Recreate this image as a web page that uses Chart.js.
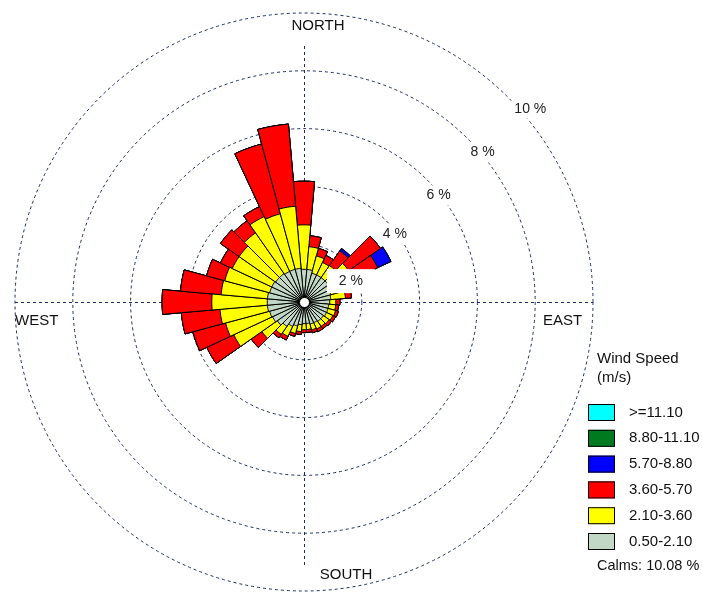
<!DOCTYPE html>
<html>
<head>
<meta charset="utf-8">
<script src="https://cdn.jsdelivr.net/npm/chart.js@4"></script>
<style>
  html, body { margin: 0; padding: 0; background: #ffffff; }
  #wrap { position: relative; width: 702px; height: 592px; }
</style>
</head>
<body>
<div id="wrap"><canvas id="rose" width="702" height="592"></canvas></div>
<script>
// Wind direction sectors (degrees clockwise from north), 10° each
const directions = ['0','10','20','30','40','50','60','70','80','90','100','110',
                    '120','130','140','150','160','170','180','190','200','210','220','230',
                    '240','250','260','270','280','290','300','310','320','330','340','350'];

// Frequency (%) of each wind speed class per direction sector
const freq_050_210 = [1.13,1.13,1.03,1.03,1.03,1.03,0.96,0.96,0.93,0.89,0.86,0.86,
                      0.86,0.82,0.82,0.79,0.79,0.75,0.75,0.79,0.86,0.93,1.03,1.13,
                      1.20,1.23,1.27,1.27,1.27,1.23,1.23,1.20,1.20,1.17,1.17,1.17];
const freq_210_360 = [1.54,0.79,0.62,0.48,0.51,0.86,0.75,0.48,0.51,0.21,0.24,0.27,
                      0.24,0.24,0.21,0.24,0.21,0.21,0.21,0.24,0.27,0.38,0.34,0.65,
                      1.48,1.58,1.65,1.92,1.61,1.61,1.51,1.54,1.72,2.09,1.99,2.16];
const freq_360_570 = [1.51,0.38,0.27,0.27,0.62,1.34,1.10,0.45,0.21,0.14,0.10,0.10,
                      0.10,0.10,0.10,0.10,0.10,0.10,0.10,0.10,0.10,0.14,0.14,0.45,
                      1.03,1.17,1.34,1.72,1.41,0.65,0.45,0.79,0.51,0.38,2.50,2.85];
const freq_570_880 = [0,0,0,0,0.10,0,0.51,0,0,0,0,0,
                      0,0,0,0,0,0,0,0,0,0,0,0,
                      0,0,0,0,0,0,0,0,0,0,0,0];
const freq_880_1110 = [0,0,0,0,0,0,0,0,0,0,0,0,
                       0,0,0,0,0,0,0,0,0,0,0,0,
                       0,0,0,0,0,0,0,0,0,0,0,0];
const freq_ge_1110 = [0,0,0,0,0,0,0,0,0,0,0,0,
                      0,0,0,0,0,0,0,0,0,0,0,0,
                      0,0,0,0,0,0,0,0,0,0,0,0];

// Speed classes, lowest first
const speedLabels = ['0.50-2.10','2.10-3.60','3.60-5.70','5.70-8.80','8.80-11.10','>=11.10'];
const speedColors = ['#c2d8c6','#ffff00','#ff0000','#0000ff','#007a1f','#00ffff'];
const speedSeries = [freq_050_210, freq_210_360, freq_360_570, freq_570_880, freq_880_1110, freq_ge_1110];

// Frequency rings and their labels
const ringValues = [2, 4, 6, 8, 10];
const ringLabels = ['2 %', '4 %', '6 %', '8 %', '10 %'];
const compassLabels = ['NORTH', 'EAST', 'SOUTH', 'WEST'];
const legendTitle = ['Wind Speed', '(m/s)'];
const calmsPercent = 10.08;

// Petals are stacked: each class is drawn out to the running total,
// lower classes sit on top (Chart.js paints dataset 0 last).
const running = directions.map(() => 0);
const datasets = speedSeries.map((series, k) => {
  const cumulative = series.map((v, i) => (running[i] = +(running[i] + v).toFixed(4)));
  return {
    label: speedLabels[k],
    data: cumulative,
    backgroundColor: speedColors[k],
    borderColor: '#000000',
    borderWidth: 1
  };
});

const RING_COLOR = '#1c2a66';
const FONT = '"Liberation Sans", Arial, sans-serif';
// label offsets (px) from each ring's 45° crossing
const ringLabelNudge = [[-6, 13], [-3, 7], [0, 9], [3, 7], [6, 4]];

const roseDecor = {
  id: 'roseDecor',
  beforeDatasetsDraw(chart) {
    const ctx = chart.ctx;
    const s = chart.scales.r;
    const R = s.getDistanceFromCenterForValue(10);
    ctx.save();
    ctx.strokeStyle = RING_COLOR;
    ctx.lineWidth = 1;
    ctx.setLineDash([3, 3]);
    ctx.beginPath();
    ctx.moveTo(s.xCenter - R, s.yCenter + 0.5);
    ctx.lineTo(s.xCenter + R, s.yCenter + 0.5);
    ctx.moveTo(s.xCenter + 0.5, s.yCenter - R + 33);
    ctx.lineTo(s.xCenter + 0.5, s.yCenter + R - 25);
    ctx.stroke();
    ctx.restore();
  },
  afterDatasetsDraw(chart) {
    const ctx = chart.ctx;
    const s = chart.scales.r;
    const cx = s.xCenter, cy = s.yCenter;
    const R = s.getDistanceFromCenterForValue(10);
    ctx.save();

    // calm circle
    ctx.beginPath();
    ctx.arc(cx + 0.5, cy + 0.5, 5, 0, Math.PI * 2);
    ctx.fillStyle = '#ffffff';
    ctx.fill();
    ctx.lineWidth = 1;
    ctx.strokeStyle = '#000000';
    ctx.stroke();

    // ring labels just below each ring's north-east crossing
    ctx.font = '14px ' + FONT;
    ctx.textBaseline = 'top';
    ctx.textAlign = 'left';
    ringValues.forEach((v, i) => {
      const d = s.getDistanceFromCenterForValue(v);
      const x = cx + d * Math.SQRT1_2 + ringLabelNudge[i][0];
      const y = cy - d * Math.SQRT1_2 + ringLabelNudge[i][1];
      const w = ctx.measureText(ringLabels[i]).width;
      ctx.fillStyle = '#ffffff';
      if (i === 0) ctx.fillRect(x - 12, y - 5, w + 24, 24);
      else ctx.fillRect(x - 3, y - 3, w + 6, 20);
      ctx.fillStyle = '#222222';
      ctx.fillText(ringLabels[i], x, y);
    });

    // compass labels
    ctx.font = '15px ' + FONT;
    ctx.fillStyle = '#111111';
    ctx.textBaseline = 'middle';
    ctx.textAlign = 'center';
    ctx.fillText(compassLabels[0], cx + 14, cy - R + 13);
    ctx.fillText(compassLabels[2], cx + 42, cy + R - 16);
    ctx.textAlign = 'left';
    ctx.fillText(compassLabels[3], cx - R, cy + 19);
    ctx.fillText(compassLabels[1], cx + R - 50, cy + 19);

    // legend
    const lx = 588, bw = 27, bh = 17, step = 25.8;
    ctx.textAlign = 'left';
    ctx.textBaseline = 'middle';
    ctx.fillStyle = '#111111';
    ctx.fillText(legendTitle[0], 597, 359);
    ctx.fillText(legendTitle[1], 597, 378);
    const order = chart.data.datasets.slice().reverse();
    order.forEach((ds, i) => {
      const y = 404 + i * step;
      ctx.fillStyle = ds.backgroundColor;
      ctx.fillRect(lx, y, bw, bh);
      ctx.strokeStyle = '#000000';
      ctx.lineWidth = 1;
      ctx.strokeRect(lx + 0.5, y + 0.5, bw - 1, bh - 1);
      ctx.fillStyle = '#111111';
      ctx.fillText(ds.label, 629, y + bh / 2);
    });
    ctx.font = '14.5px ' + FONT;
    ctx.fillText('Calms: ' + calmsPercent.toFixed(2) + ' %', 597, 566);
    ctx.restore();
  }
};

new Chart(document.getElementById('rose'), {
  type: 'polarArea',
  data: { labels: directions, datasets },
  options: {
    responsive: false,
    animation: false,
    layout: { padding: { left: 13, right: 106, top: 13, bottom: -4 } },
    plugins: { legend: { display: false }, tooltip: { enabled: false } },
    scales: {
      r: {
        min: 0,
        max: 10,
        startAngle: -5,
        ticks: { display: false, stepSize: 2 },
        grid: { circular: true, color: RING_COLOR, lineWidth: 1 },
        border: { dash: [3, 3] },
        angleLines: { display: false },
        pointLabels: { display: false }
      }
    }
  },
  plugins: [roseDecor]
});
</script>
</body>
</html>
